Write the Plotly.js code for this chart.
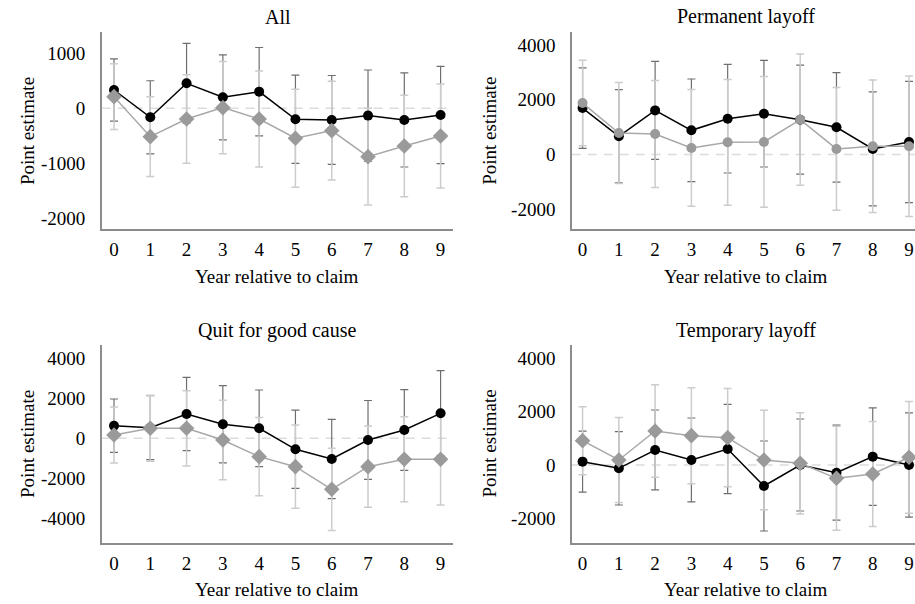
<!DOCTYPE html>
<html>
<head>
<meta charset="utf-8">
<script src="https://cdn.plot.ly/plotly-3.0.1.min.js"></script>
<style>html,body{margin:0;padding:0;background:#fff;}#chart{width:915px;height:604px;}</style>
</head>
<body>
<div id="chart"></div>
<script>
// Data
var years = [0, 1, 2, 3, 4, 5, 6, 7, 8, 9];
var yearTicks = ['0','1','2','3','4','5','6','7','8','9'];

var panelTitles = ['All', 'Permanent layoff', 'Quit for good cause', 'Temporary layoff'];

var blackAll    = [333, -164, 455, 200, 303, -200, -212, -133, -212, -121];
var blackAllErr = [565, 665, 727, 773, 803, 803, 809, 830, 855, 885];
var grayAll     = [212, -515, -194, 12, -194, -545, -406, -879, -685, -503];
var grayAllErr  = [597, 727, 803, 839, 873, 890, 900, 879, 924, 945];

var blackPerm    = [1697, 667, 1612, 885, 1309, 1491, 1273, 994, 206, 461];
var blackPermErr = [1470, 1700, 1788, 1873, 1982, 1945, 1988, 2000, 2079, 2212];
var grayPerm     = [1879, 788, 752, 242, 448, 461, 1273, 206, 303, 303];
var grayPermErr  = [1560, 1840, 1950, 2133, 2296, 2388, 2394, 2242, 2418, 2560];

var blackQuit    = [633, 533, 1217, 700, 500, -550, -1033, -83, 417, 1250];
var blackQuitErr = [1333, 1600, 1833, 1933, 1917, 1958, 1983, 1975, 2017, 2133];
var grayQuit     = [167, 500, 500, -83, -917, -1417, -2550, -1417, -1050, -1050];
var grayQuitErr  = [1400, 1650, 1883, 1990, 1958, 2083, 2058, 2033, 2125, 2283];

var blackTemp    = [125, -125, 563, 188, 600, -788, 0, -288, 313, 0];
var blackTempErr = [1144, 1375, 1500, 1575, 1675, 1688, 1725, 1780, 1830, 1955];
var grayTemp     = [913, 188, 1275, 1100, 1025, 188, 63, -500, -338, 288];
var grayTempErr  = [1275, 1594, 1731, 1800, 1844, 1863, 1900, 1950, 1969, 2094];

var yTicks1 = [-2000, -1000, 0, 1000];
var yTicks2 = [-2000, 0, 2000, 4000];
var yTicks3 = [-4000, -2000, 0, 2000, 4000];
var yTicks4 = [-2000, 0, 2000, 4000];

var FONT = 'Liberation Serif';

function errTrace(y, err, xa, ya, col, th) {
  return {
    x: years, y: y, xaxis: xa, yaxis: ya, type: 'scatter', mode: 'markers',
    marker: {size: 1, opacity: 0},
    error_y: {type: 'data', array: err, visible: true, color: col, thickness: th, width: 4},
    showlegend: false, hoverinfo: 'skip'
  };
}
function blackTrace(y, xa, ya) {
  return {
    x: years, y: y, xaxis: xa, yaxis: ya, type: 'scatter', mode: 'lines+markers',
    line: {color: '#000000', width: 1.5},
    marker: {symbol: 'circle', size: 10, color: '#000000'},
    showlegend: false, hoverinfo: 'skip'
  };
}
function grayTrace(y, xa, ya, sym) {
  return {
    x: years, y: y, xaxis: xa, yaxis: ya, type: 'scatter', mode: 'lines+markers',
    line: {color: '#a8a8a8', width: 1.5},
    marker: {symbol: sym, size: sym === 'diamond' ? 12 : 10, color: '#9a9a9a'},
    showlegend: false, hoverinfo: 'skip'
  };
}

function panel(bY, bE, gY, gE, xa, ya, sym) {
  return [
    errTrace(bY, bE, xa, ya, '#6e6e6e', 1.2),
    errTrace(gY, gE, xa, ya, '#cccccc', 1.5),
    blackTrace(bY, xa, ya),
    grayTrace(gY, xa, ya, sym)
  ];
}

var data = [].concat(
  panel(blackAll, blackAllErr, grayAll, grayAllErr, 'x', 'y', 'diamond'),
  panel(blackPerm, blackPermErr, grayPerm, grayPermErr, 'x2', 'y2', 'circle'),
  panel(blackQuit, blackQuitErr, grayQuit, grayQuitErr, 'x3', 'y3', 'diamond'),
  panel(blackTemp, blackTempErr, grayTemp, grayTempErr, 'x4', 'y4', 'diamond')
);

function xAxis(domain, range, anchor) {
  return {
    domain: domain, range: range, anchor: anchor,
    tickmode: 'array', tickvals: years, ticktext: yearTicks,
    showline: true, linecolor: '#8c8c8c', linewidth: 1.5,
    showgrid: false, zeroline: false, ticks: '', ticklabelstandoff: 2,
    tickfont: {family: FONT, size: 19, color: '#000'}, fixedrange: true
  };
}
function yAxis(domain, range, anchor, vals) {
  return {
    domain: domain, range: range, anchor: anchor,
    tickmode: 'array', tickvals: vals, ticktext: vals.map(String),
    showline: true, linecolor: '#8c8c8c', linewidth: 1.5,
    showgrid: false, zeroline: false, ticks: '', ticklabelstandoff: 11,
    tickfont: {family: FONT, size: 19, color: '#000'}, fixedrange: true
  };
}

var xd1 = [0.1111, 0.4954], xd2 = [0.6248, 1];
var yd1 = [0.6204, 0.9475], yd2 = [0.1005, 0.4288];

function zeroLine(xr, yr) {
  return {type: 'line', xref: xr + ' domain', yref: yr, x0: 0, x1: 1, y0: 0, y1: 0,
          line: {color: '#dcdcdc', width: 1.5, dash: '9px,7px'}, layer: 'below'};
}

function ann(text, x, y, size, angle) {
  return {text: text, xref: 'paper', yref: 'paper', x: x, y: y, xanchor: 'center', yanchor: 'middle',
          showarrow: false, textangle: angle || 0, font: {family: FONT, size: size, color: '#000'}};
}

var layout = {
  width: 915, height: 604,
  margin: {l: 0, r: 0, t: 0, b: 0},
  paper_bgcolor: '#ffffff', plot_bgcolor: '#ffffff',
  showlegend: false,
  font: {family: FONT},
  xaxis:  xAxis(xd1, [-0.34, 9.35], 'y'),
  yaxis:  yAxis(yd1, [-2200, 1393], 'x', yTicks1),
  xaxis2: xAxis(xd2, [-0.30, 9.165], 'y2'),
  yaxis2: yAxis(yd1, [-2727, 4484], 'x2', yTicks2),
  xaxis3: xAxis(xd1, [-0.34, 9.35], 'y3'),
  yaxis3: yAxis(yd2, [-5250, 4667], 'x3', yTicks3),
  xaxis4: xAxis(xd2, [-0.30, 9.165], 'y4'),
  yaxis4: yAxis(yd2, [-2937, 4500], 'x4', yTicks4),
  shapes: [zeroLine('x', 'y'), zeroLine('x2', 'y2'), zeroLine('x3', 'y3'), zeroLine('x4', 'y4')],
  annotations: [
    ann(panelTitles[0], 0.3033, 0.9724, 20),
    ann(panelTitles[1], 0.8153, 0.9735, 20),
    ann(panelTitles[2], 0.3024, 0.4536, 20),
    ann(panelTitles[3], 0.8153, 0.4536, 20),
    ann('Year relative to claim', 0.3024, 0.5419, 19),
    ann('Year relative to claim', 0.8153, 0.5414, 19),
    ann('Year relative to claim', 0.3024, 0.0232, 19),
    ann('Year relative to claim', 0.8153, 0.0232, 19),
    ann('Point estimate', 0.0309, 0.7834, 19, -90),
    ann('Point estimate', 0.5355, 0.7834, 19, -90),
    ann('Point estimate', 0.0300, 0.2657, 19, -90),
    ann('Point estimate', 0.5355, 0.2657, 19, -90)
  ]
};

Plotly.newPlot('chart', data, layout, {staticPlot: true, displayModeBar: false});
</script>
</body>
</html>
